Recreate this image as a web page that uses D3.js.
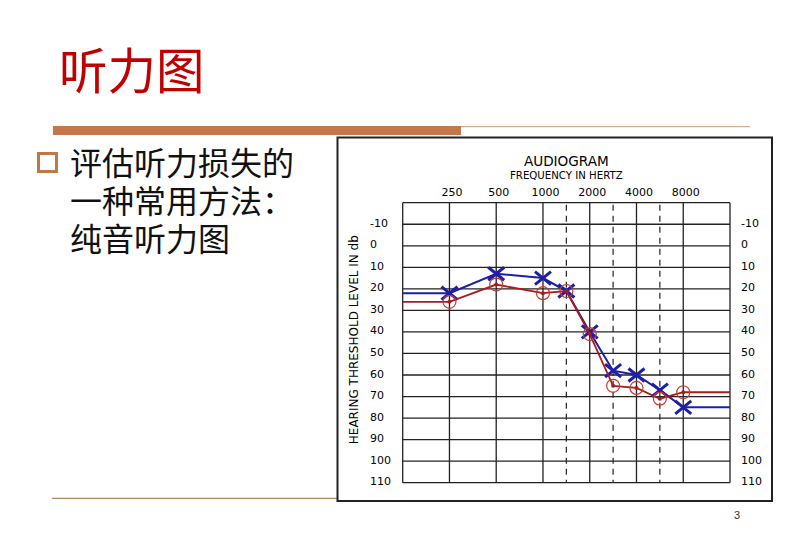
<!DOCTYPE html>
<html><head><meta charset="utf-8">
<script src="https://cdn.jsdelivr.net/npm/d3@7/dist/d3.min.js"></script>
<style>
html,body{margin:0;padding:0;background:#fff;}
svg{display:block;}
</style>
</head><body>
<svg id="c" width="800" height="553"></svg>
<script>
// ---------- data ----------
const pageTitle = "听力图";
const bulletLines = ["评估听力损失的", "一种常用方法：", "纯音听力图"];
const chartTitle = "AUDIOGRAM";
const xAxisTitle = "FREQUENCY IN HERTZ";
const yAxisTitle = "HEARING THRESHOLD LEVEL IN db";
const pageNumber = "3";

const gridFreqs = [125, 250, 500, 1000, 2000, 4000, 8000, 16000];
const freqLabels = [250, 500, 1000, 2000, 4000, 8000];
const halfOctaveFreqs = [1500, 3000, 6000];
const dbTicks = [-10, 0, 10, 20, 30, 40, 50, 60, 70, 80, 90, 100, 110];
const dbDomain = [-20, 110];

const testFreqs = [250, 500, 1000, 1500, 2000, 3000, 4000, 6000, 8000];
const leftEarDb = [22, 13, 15, 21, 40, 58, 60, 67, 75];   // blue X
const rightEarDb = [26, 18, 22, 21, 41, 65, 66, 71, 68];  // red O

// ---------- layout ----------
const svg = d3.select("#c");
const gx0 = 402.7, gx1 = 730, gy0 = 202.7, gy1 = 482.7;

const xLog = d3.scaleLog().base(2).domain([gridFreqs[0], gridFreqs[gridFreqs.length - 1]]).range([gx0, gx1]);
// audiogram placement: half-octave frequencies sit midway between octaves
function xf(f) {
  const lo = gridFreqs[0] * Math.pow(2, Math.floor(Math.log2(f / gridFreqs[0]) + 1e-9));
  if (Math.abs(f - lo) < 1e-6) return xLog(f);
  return xLog(lo) + (f / lo - 1) * (xLog(lo * 2) - xLog(lo));
}
const y = d3.scaleLinear().domain(dbDomain).range([gy0, gy1]);

// ---------- slide decoration ----------
svg.append("text").attr("x", 59).attr("y", 89)
  .attr("font-family", "'Noto Sans CJK SC'").attr("font-size", 48.5)
  .attr("fill", "#c00000").text(pageTitle);

svg.append("rect").attr("x", 53).attr("y", 126).attr("width", 408).attr("height", 9).attr("fill", "#c4774a");
svg.append("line").attr("x1", 461).attr("x2", 750).attr("y1", 126.7).attr("y2", 126.7)
  .attr("stroke", "#c89a70").attr("stroke-width", 1);
svg.append("line").attr("x1", 52).attr("x2", 337).attr("y1", 498.3).attr("y2", 498.3)
  .attr("stroke", "#b08860").attr("stroke-width", 1.3);

svg.append("rect").attr("x", 38.5).attr("y", 153.5).attr("width", 18).attr("height", 18)
  .attr("fill", "none").attr("stroke", "#c0784a").attr("stroke-width", 3);

const bullet = svg.append("text")
  .attr("font-family", "'Noto Sans CJK SC'").attr("font-size", 32)
  .attr("fill", "#111");
bullet.selectAll("tspan").data(bulletLines).join("tspan")
  .attr("x", 70).attr("y", (d, i) => 174.5 + i * 38).text(d => d);

svg.append("text").attr("x", 737).attr("y", 519).attr("text-anchor", "middle")
  .attr("font-family", "'Liberation Sans', Arial, sans-serif").attr("font-size", 11)
  .attr("fill", "#333").text(pageNumber);

// ---------- chart frame ----------
svg.append("rect").attr("x", 337.5).attr("y", 137.5).attr("width", 434.5).attr("height", 363.5)
  .attr("fill", "#fff").attr("stroke", "#222").attr("stroke-width", 2);

const font = "'DejaVu Sans', Verdana, sans-serif";
svg.append("text").attr("x", (gx0 + gx1) / 2).attr("y", 166).attr("text-anchor", "middle")
  .attr("font-family", font).attr("font-size", 13.6).attr("fill", "#000").text(chartTitle);
svg.append("text").attr("x", (gx0 + gx1) / 2).attr("y", 178.5).attr("text-anchor", "middle")
  .attr("font-family", font).attr("font-size", 10.2).attr("fill", "#000").text(xAxisTitle);
svg.append("text").attr("transform", `translate(357.5,${(gy0 + gy1) / 2 - 3}) rotate(-90)`)
  .attr("text-anchor", "middle").attr("font-family", font).attr("font-size", 12)
  .attr("fill", "#000").text(yAxisTitle);

// ---------- grid ----------
const grid = svg.append("g");
grid.selectAll("line.h").data(d3.range(dbDomain[0], dbDomain[1] + 1, 10)).join("line")
  .attr("class", "h").attr("x1", gx0).attr("x2", gx1).attr("y1", d => y(d)).attr("y2", d => y(d))
  .attr("stroke", "#222").attr("stroke-width", 1.3);
grid.selectAll("line.v").data(gridFreqs).join("line")
  .attr("class", "v").attr("x1", d => xLog(d)).attr("x2", d => xLog(d)).attr("y1", gy0).attr("y2", gy1)
  .attr("stroke", "#222").attr("stroke-width", 1.3);
grid.selectAll("line.d").data(halfOctaveFreqs).join("line")
  .attr("class", "d").attr("x1", d => xf(d)).attr("x2", d => xf(d)).attr("y1", gy0 + 2).attr("y2", gy1)
  .attr("stroke", "#222").attr("stroke-width", 1.2).attr("stroke-dasharray", "6,5");

// ---------- axes labels ----------
function styleAxis(g) {
  g.select(".domain").remove();
  g.selectAll("line").remove();
  g.selectAll("text").attr("font-family", font).attr("font-size", 11).attr("fill", "#000");
}
const plainNum = d => String(d);
svg.append("g").attr("transform", "translate(370,-1.5)")
  .call(d3.axisRight(y).tickValues(dbTicks).tickFormat(plainNum).tickSize(0).tickPadding(0)).call(styleAxis);
svg.append("g").attr("transform", "translate(741,-1.5)")
  .call(d3.axisRight(y).tickValues(dbTicks).tickFormat(plainNum).tickSize(0).tickPadding(0)).call(styleAxis);
svg.append("g").attr("transform", "translate(2,195.5)")
  .call(d3.axisTop(xLog).tickValues(freqLabels).tickFormat(plainNum).tickSize(0).tickPadding(0))
  .call(styleAxis);

// ---------- series ----------
function seriesPoints(vals) {
  const pts = testFreqs.map((f, i) => [xf(f), y(vals[i])]);
  return [[gx0, pts[0][1]], ...pts, [gx1, pts[pts.length - 1][1]]];
}
const lineGen = d3.line();

const blue = "#1e1ea6", red = "#a81c1c";
svg.append("path").attr("d", lineGen(seriesPoints(leftEarDb)))
  .attr("fill", "none").attr("stroke", blue).attr("stroke-width", 2);
svg.append("g").selectAll("path").data(testFreqs).join("path")
  .attr("d", (f, i) => {
    const cx = xf(f), cy = y(leftEarDb[i]), w = 8, h = 6.5;
    return `M${cx - w},${cy - h}L${cx + w},${cy + h}M${cx - w},${cy + h}L${cx + w},${cy - h}`;
  })
  .attr("fill", "none").attr("stroke", blue).attr("stroke-width", 3);

svg.append("path").attr("d", lineGen(seriesPoints(rightEarDb)))
  .attr("fill", "none").attr("stroke", red).attr("stroke-width", 1.8);
const rg = svg.append("g");
rg.selectAll("circle.o").data(testFreqs).join("circle").attr("class", "o")
  .attr("cx", f => xf(f)).attr("cy", (f, i) => y(rightEarDb[i])).attr("r", 6.5)
  .attr("fill", "none").attr("stroke", "#c83a30").attr("stroke-width", 1.2);
rg.selectAll("circle.c").data(testFreqs).join("circle").attr("class", "c")
  .attr("cx", f => xf(f)).attr("cy", (f, i) => y(rightEarDb[i])).attr("r", 2)
  .attr("fill", red);
</script>
</body></html>
